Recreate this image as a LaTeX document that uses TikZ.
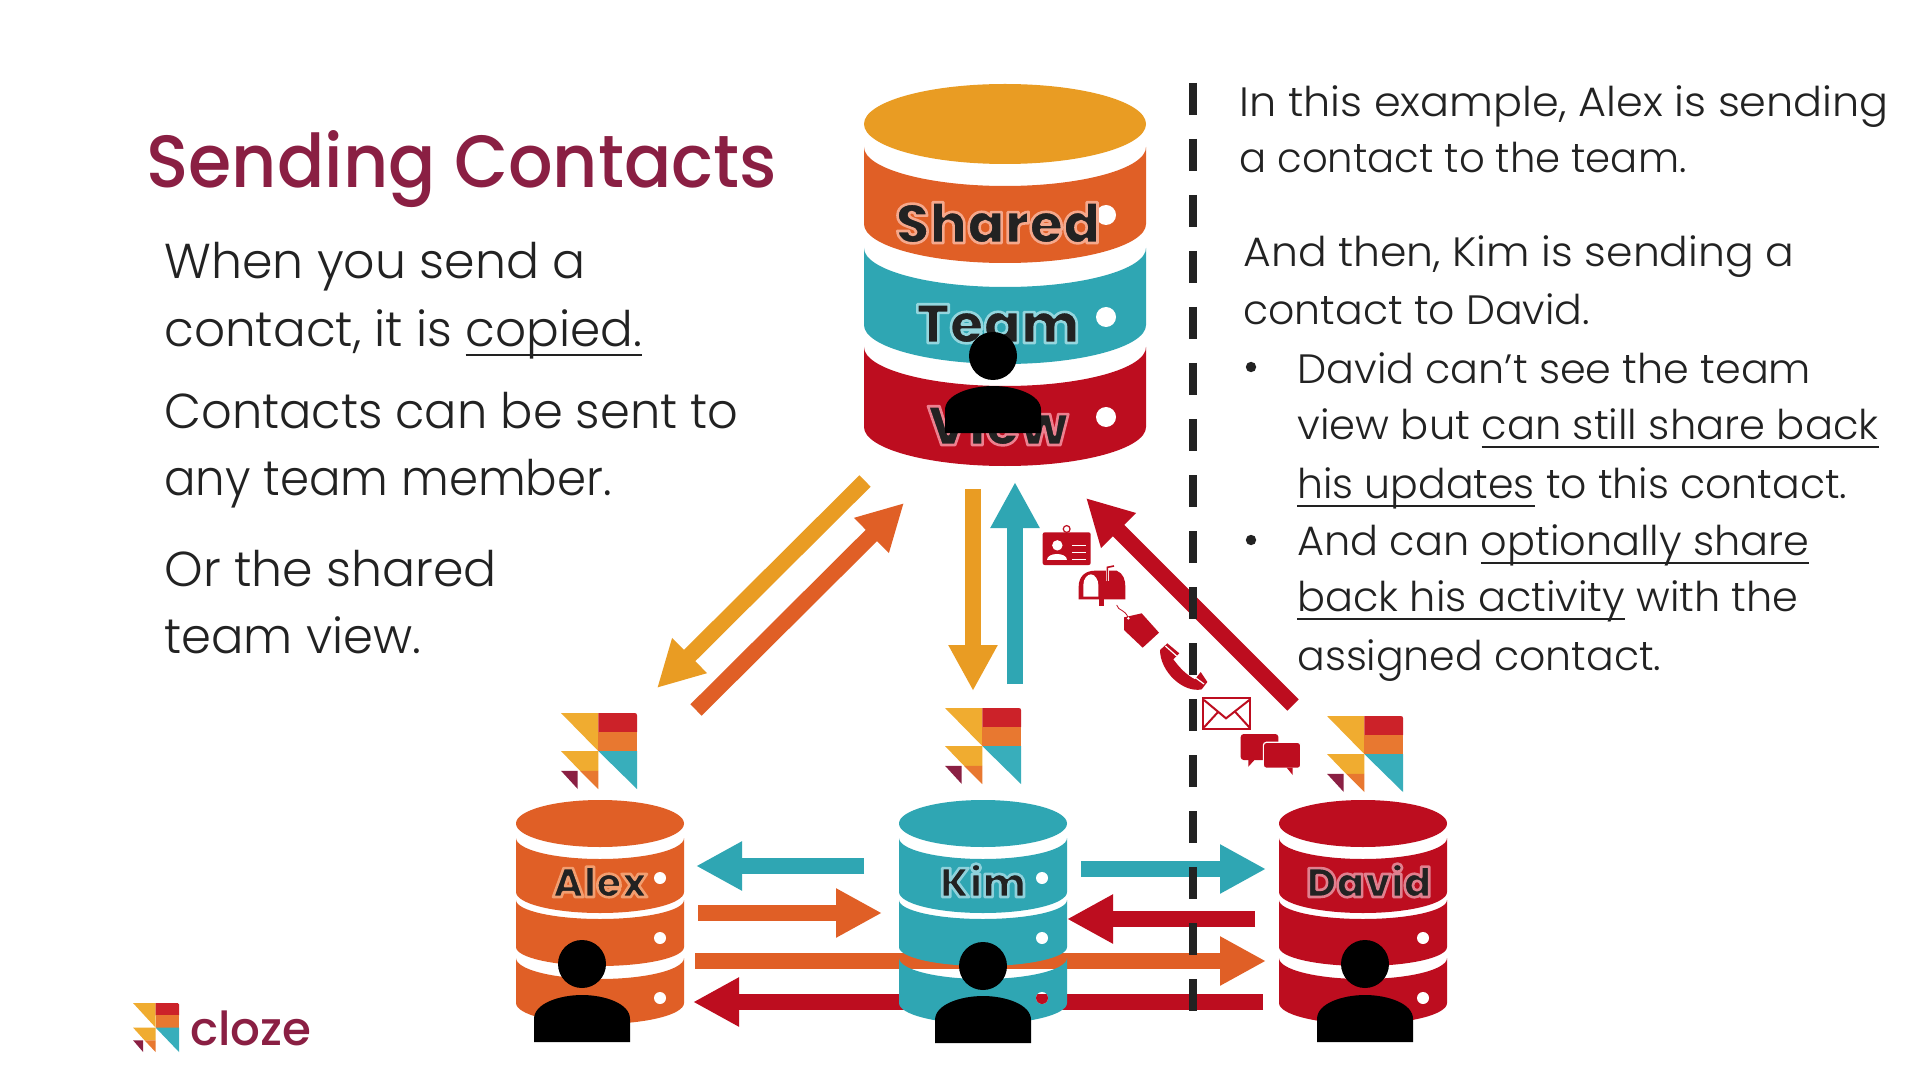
\documentclass[tikz,border=0pt]{standalone}
\usepackage{fontspec}
\usepackage{graphicx}
\usetikzlibrary{arrows.meta}
\setmainfont{Poppins Light}
\newfontfamily\titlef{Poppins Medium}
\newfontfamily\labelf{Poppins ExtraBold}
\definecolor{dbyellow}{HTML}{E99C23}
\definecolor{dborange}{HTML}{E05F26}
\definecolor{dbteal}{HTML}{2FA6B3}
\definecolor{dbred}{HTML}{BD0D1F}
\definecolor{lgyellow}{HTML}{F0AC30}
\definecolor{lgred}{HTML}{CC2229}
\definecolor{lgorange}{HTML}{E87830}
\definecolor{lgteal}{HTML}{38AEBB}
\definecolor{maroon}{HTML}{8A1F43}
\definecolor{ink}{HTML}{222222}
% one database band: colour, centre x, half width, side top y, side bottom y, curve depth
\newcommand\dbband[6]{\fill[#1] (#2-#3,#4) .. controls (#2-#3,#4+.55*#6) and (#2-.55*#3,#4+#6) .. (#2,#4+#6) .. controls (#2+.55*#3,#4+#6) and (#2+#3,#4+.55*#6) .. (#2+#3,#4) -- (#2+#3,#5) .. controls (#2+#3,#5+.55*#6) and (#2+.55*#3,#5+#6) .. (#2,#5+#6) .. controls (#2-.55*#3,#5+#6) and (#2-#3,#5+.55*#6) .. (#2-#3,#5) -- cycle;}
% person: head x, head y, head rx, body half width, body top y, body bottom y
\newcommand\person[6]{\fill[black] (#1,#2) ellipse [x radius=#3*.5pt,y radius=12pt];
\fill[black] (#1-#4,#6) -- (#1-#4,#5+24) .. controls (#1-#4,#5+8) and (#1-.45*#4,#5) .. (#1,#5) .. controls (#1+.45*#4,#5) and (#1+#4,#5+8) .. (#1+#4,#5+24) -- (#1+#4,#6) -- cycle;}
% logo: left, top, width, height
\newcommand\zlogo[4]{\begin{scope}[shift={(#1,#2)},x=#3*.5pt,y=-#4*.5pt]
\fill[lgyellow] (0,0) -- (.49,0) -- (.49,.5) -- cycle;
\fill[lgred] (.49,0) -- (.97,0) .. controls (.99,0) and (1,.01) .. (1,.03) -- (1,.25) -- (.49,.25) -- cycle;
\fill[lgorange] (.49,.25) rectangle (1,.5);
\fill[lgteal] (.49,.5) -- (1,.5) -- (1,1) -- cycle;
\fill[lgyellow] (0,.5) -- (.49,.5) -- (.49,.76) -- (.25,.76) -- cycle;
\fill[lgorange] (.25,.76) -- (.49,.76) -- (.49,1) -- cycle;
\fill[maroon] (0,.76) -- (.22,.76) -- (.22,1) -- cycle;
\end{scope}}
% label with a light outline: r g b stroke colour, text
\newcommand\halotext[2]{\special{pdf:code 1 j 2 Tr #1 RG 1.3 w}#2\special{pdf:code 0 Tr}}
\newcommand\ulx[1]{\setbox0\hbox{#1}\rlap{\rule[-4.5pt]{\wd0}{1pt}}\box0 }
\newcommand\sx[2]{\scalebox{#1}[1]{#2}}
\tikzset{
  fat/.style={line width=8pt,-{Triangle[length=23pt,width=23pt]}},
  dblabel/.style={anchor=base,inner sep=0pt,text=ink,font=\labelf\fontsize{27.5pt}{29pt}\selectfont},
  smlabel/.style={dblabel,font=\labelf\fontsize{20.5pt}{22pt}\selectfont},
  bigtext/.style={anchor=base west,inner sep=0pt,text=ink,font=\fontsize{24.5pt}{25pt}\selectfont},
  bodytext/.style={anchor=base west,inner sep=0pt,text=ink,font=\fontsize{20.5pt}{21pt}\selectfont},
  hole/.style={fill=white},
}
\begin{document}
\begin{tikzpicture}[x=.5pt,y=-.5pt]
\useasboundingbox (0,0) rectangle (1920,1080);
\fill[white] (0,0) rectangle (1920,1080);

% ---- arrows lying under the databases
\coordinate (ao1) at (695,961); \coordinate (ao2) at (1266,961);
\coordinate (ar1) at (1263,1002); \coordinate (ar2) at (693,1002);
\draw[fat,dborange] (ao1) -- (ao2);
\draw[fat,dbred] (ar1) -- (ar2);

% ---- big database
\fill[dbyellow] (1005,124) ellipse [x radius=70.5pt,y radius=20pt];
\dbband{dborange}{1005}{141}{147}{224}{39}
\dbband{dbteal}{1005}{141}{248}{325}{39}
\dbband{dbred}{1005}{141}{347}{427}{39}
\fill[hole] (1106,215) circle [radius=5pt];
\fill[hole] (1106,317) circle [radius=5pt];
\fill[hole] (1106,417) circle [radius=5pt];
\node[dblabel] (lbShared) at (998,243) {\halotext{.96 .66 .55}{Shared}};
\node[dblabel] (lbTeam) at (998,343) {\halotext{.58 .84 .87}{Team}};
\node[dblabel] (lbView) at (998,445) {\halotext{.93 .50 .56}{View}};
\person{993}{356}{24}{48}{386}{433}

% ---- Alex
\fill[dborange] (600,823.5) ellipse [x radius=42pt,y radius=11.75pt];
\dbband{dborange}{600}{84}{838}{892}{21}
\dbband{dborange}{600}{84}{900}{947}{19}
\dbband{dborange}{600}{84}{958}{1003}{21}
\fill[hole] (660,878) circle [radius=3pt];
\fill[hole] (660,938) circle [radius=3pt];
\fill[hole] (660,998) circle [radius=3pt];
\node[smlabel] (lbAlex) at (600,897) {\halotext{.95 .62 .44}{Alex}};
\person{582}{964}{24}{48}{995}{1042}

% ---- Kim
\fill[dbteal] (983,823.5) ellipse [x radius=42pt,y radius=11.75pt];
\dbband{dbteal}{983}{84}{838}{892}{21}
\dbband{dbteal}{983}{84}{900}{947}{19}
\dbband{dbteal}{983}{84}{958}{1003}{21}
\fill[hole] (1042,878) circle [radius=3pt];
\fill[hole] (1042,938) circle [radius=3pt];
\fill[hole] (1042,998) circle [radius=3pt];
\begin{scope}
\clip (1042,998) circle [radius=3pt];
\fill[dbred] (1030,994) rectangle (1054,1010);
\end{scope}
\node[smlabel] (lbKim) at (983,897) {\halotext{.56 .82 .86}{Kim}};
\person{983}{966}{24}{48}{996}{1043}

% ---- David
\fill[dbred] (1363,823.5) ellipse [x radius=42pt,y radius=11.75pt];
\dbband{dbred}{1363}{84}{838}{892}{21}
\dbband{dbred}{1363}{84}{900}{947}{19}
\dbband{dbred}{1363}{84}{958}{1003}{21}
\fill[hole] (1423,938) circle [radius=3pt];
\fill[hole] (1423,998) circle [radius=3pt];
\node[smlabel] (lbDavid) at (1369,897) {\halotext{.88 .50 .56}{David}};
\person{1365}{964}{24}{48}{995}{1042}

% ---- logos
\zlogo{561}{713}{76}{76}
\zlogo{945}{708}{76}{76}
\zlogo{1327}{716}{76}{76}
\zlogo{133}{1003}{46}{49}

% ---- other arrows
\coordinate (d1) at (865,481); \coordinate (d2) at (657,688);
\coordinate (e1) at (696,710); \coordinate (e2) at (904,503);
\coordinate (f1) at (973,489); \coordinate (f2) at (973,691);
\coordinate (g1) at (1015,684); \coordinate (g2) at (1015,482);
\coordinate (h1) at (1293,705); \coordinate (h2) at (1086,498);
\coordinate (i1) at (864,866); \coordinate (i2) at (696,866);
\coordinate (j1) at (698,913); \coordinate (j2) at (882,913);
\coordinate (k1) at (1081,869); \coordinate (k2) at (1266,869);
\coordinate (m1) at (1255,919); \coordinate (m2) at (1067,919);
\draw[fat,dbyellow] (d1) -- (d2);
\draw[fat,dborange] (e1) -- (e2);
\draw[fat,dbyellow] (f1) -- (f2);
\draw[fat,dbteal] (g1) -- (g2);
\draw[fat,dbred] (h1) -- (h2);
\draw[fat,dbteal] (i1) -- (i2);
\draw[fat,dborange] (j1) -- (j2);
\draw[fat,dbteal] (k1) -- (k2);
\draw[fat,dbred] (m1) -- (m2);

% ---- dashed divider
\coordinate (v1) at (1193,83); \coordinate (v2) at (1193,1011);
\draw[ink,line width=4pt,dash pattern=on 16pt off 12pt] (v1) -- (v2);

% ---- icons, in the coordinates of a 3x crop at (1020,480)
\begin{scope}[shift={(1020,480)},x=.16667pt,y=-.16667pt,dbred]
% id card
\fill[rounded corners=1pt] (68,157) rectangle (212,255);
\draw[line width=.6pt,fill=white] (140,147) circle [radius=1.7pt];
\fill[white] (112,196) circle [radius=2.6pt];
\fill[white] (82,240) .. controls (82,215) and (140,215) .. (140,240) -- cycle;
\draw[white,line width=.7pt] (157,197) -- (197,197) (157,217) -- (197,217) (157,238) -- (197,238);
% mailbox
\fill (176,358) -- (176,320) .. controls (176,290) and (195,272) .. (225,272) -- (290,272) .. controls (310,280) and (316,300) .. (316,320) -- (316,358) -- cycle;
\fill (238,358) rectangle (252,378);
\fill[white] (190,350) -- (190,315) .. controls (190,295) and (203,283) .. (213,283) .. controls (225,283) and (235,300) .. (235,315) -- (235,350) -- cycle;
\draw[white,line width=1.4pt] (262,304) -- (262,262);
\draw[line width=.8pt] (262,304) -- (262,262) -- (282,258);
% tag
\fill (312,412) -- (365,400) -- (417,458) -- (368,503) -- (312,450) -- cycle;
\draw[line width=.4pt] (290,375) .. controls (295,395) and (315,385) .. (325,415);
\fill[white] (325,415) circle [radius=.7pt];
% phone
\fill (420,510) -- (442,490) -- (478,520) -- (460,538) .. controls (480,565) and (500,585) .. (525,598) -- (542,576) -- (562,606) -- (545,628) .. controls (490,640) and (420,575) .. (420,510) -- cycle;
\draw[white,line width=.6pt] (436,498) -- (470,528) (522,590) -- (552,612);
% envelope
\draw[line width=1pt] (549,653) rectangle (690,746);
\draw[line width=1pt] (552,660) -- (618,715) -- (688,660) (552,742) -- (595,695) (688,742) -- (645,695);
% chat bubbles
\fill[rounded corners=1.5pt] (662,762) rectangle (775,840);
\fill (685,838) -- (685,860) -- (705,838) -- cycle;
\fill[rounded corners=1.5pt,draw=white,line width=.6pt] (730,787) rectangle (842,865);
\fill (800,863) -- (818,885) -- (818,863) -- cycle;
\end{scope}

% ---- left text
\node[anchor=base west,inner sep=0pt,text=maroon,font=\titlef\fontsize{37pt}{40pt}\selectfont] (title) at (146,188) {\sx{.945}{Sending Contacts}};
\node[bigtext] (l1) at (164,279) {When you send a};
\node[bigtext] (l2) at (164,347) {\sx{.99}{contact, it is \ulx{copied.}}};
\node[bigtext] (l3) at (164,428) {\sx{.977}{Contacts can be sent to}};
\node[bigtext] (l4) at (164,495) {\sx{.953}{any team member.}};
\node[bigtext] (l5) at (164,586) {Or the shared};
\node[bigtext] (l6) at (164,653) {\sx{.98}{team view.}};

% ---- right text
\node[bodytext] (r1) at (1239,117) {\sx{1.048}{In this example, Alex is sending}};
\node[bodytext] (r2) at (1239,173) {\sx{.98}{a contact to the team.}};
\node[bodytext] (r3) at (1243,267) {\sx{1.037}{And then, Kim is sending a}};
\node[bodytext] (r4) at (1243,325) {contact to David.};
\fill[ink] (1251,367) circle [radius=2.6pt];
\node[bodytext] (r5) at (1297,383) {\sx{1.007}{David can’t see the team}};
\node[bodytext] (r6) at (1297,439) {\sx{1.015}{view but \ulx{can still share back}}};
\node[bodytext] (r7) at (1297,498) {\ulx{his updates} to this contact.};
\fill[ink] (1251,540) circle [radius=2.6pt];
\node[bodytext] (r8) at (1297,555) {\sx{1.01}{And can \ulx{optionally share}}};
\node[bodytext] (r9) at (1297,611) {\sx{1.01}{\ulx{back his activity} with the}};
\node[bodytext] (r10) at (1297,670) {assigned contact.};

% ---- cloze wordmark
\node[anchor=base west,inner sep=0pt,text=maroon,font=\titlef\fontsize{23.4pt}{25pt}\selectfont] (brand) at (190,1045) {cloze};
\end{tikzpicture}
\end{document}
